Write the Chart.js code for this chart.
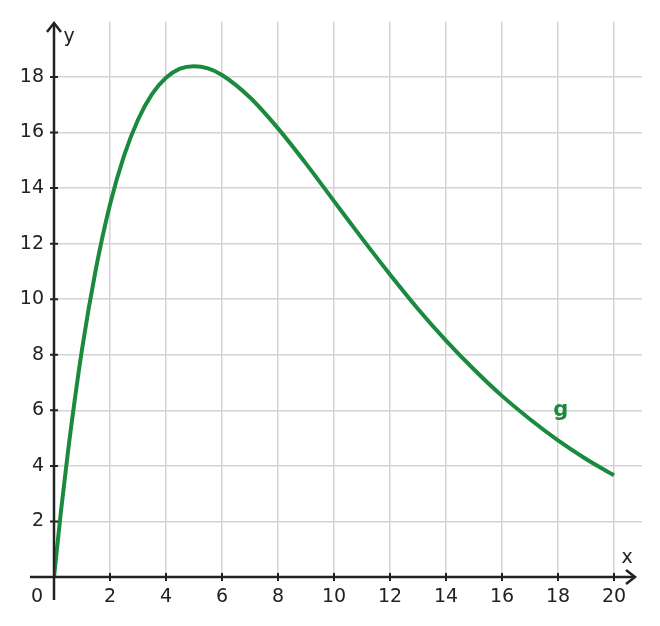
<!DOCTYPE html>
<html>
<head>
<meta charset="utf-8">
<script src="https://cdn.jsdelivr.net/npm/chart.js@4/dist/chart.umd.min.js"></script>
<style>
  html, body { margin: 0; padding: 0; background: #fff; }
  #wrap { width: 660px; height: 626px; }
</style>
</head>
<body>
<div id="wrap"><canvas id="chart" width="660" height="626"></canvas></div>
<script>
// Curve g
const xs = [0, 0.25, 0.5, 1, 1.5, 2, 2.5, 3, 3.5, 4, 4.5, 5, 5.5, 6, 7, 8, 9, 10, 11, 12, 13, 14, 15, 16, 17, 18, 19, 20];
const gValues = [0, 2.38, 4.52, 8.19, 11.11, 13.41, 15.16, 16.46, 17.38, 17.97, 18.30, 18.39, 18.31, 18.07, 17.26, 16.15, 14.88, 13.53, 12.19, 10.89, 9.65, 8.51, 7.47, 6.52, 5.68, 4.92, 4.25, 3.66];
const xTicks = [2, 4, 6, 8, 10, 12, 14, 16, 18, 20];
const yTicks = [2, 4, 6, 8, 10, 12, 14, 16, 18];

const green = "#1a8a3e";
const ink = "#222";
const font = "DejaVu Sans";

const axesPlugin = {
    id: "axes",
    afterDatasetsDraw(chart) {
        const { ctx, scales: { x, y } } = chart;
        const x0 = x.getPixelForValue(0), y0 = y.getPixelForValue(0);
        ctx.save();
        ctx.strokeStyle = ink;
        ctx.fillStyle = ink;
        ctx.lineWidth = 2.5;
        // axis lines
        ctx.beginPath();
        ctx.moveTo(30, y0); ctx.lineTo(634, y0);
        ctx.moveTo(x0, 600); ctx.lineTo(x0, 24);
        ctx.stroke();
        // arrows
        ctx.beginPath();
        ctx.moveTo(626, y0 - 7); ctx.lineTo(635, y0); ctx.lineTo(626, y0 + 7);
        ctx.moveTo(x0 - 7, 32); ctx.lineTo(x0, 23); ctx.lineTo(x0 + 7, 32);
        ctx.stroke();
        // tick marks
        ctx.lineWidth = 2;
        ctx.beginPath();
        xTicks.forEach(v => { const p = x.getPixelForValue(v); ctx.moveTo(p, y0 - 4); ctx.lineTo(p, y0 + 4); });
        yTicks.forEach(v => { const p = y.getPixelForValue(v); ctx.moveTo(x0 - 4, p); ctx.lineTo(x0 + 4, p); });
        ctx.stroke();
        // labels
        ctx.font = "19px '" + font + "'";
        ctx.textAlign = "center";
        ctx.textBaseline = "middle";
        ctx.fillText("0", 37, 597);
        ctx.fillText("x", 627, 558);
        ctx.fillText("y", 69, 37);
        ctx.fillStyle = green;
        ctx.font = "bold 21px '" + font + "'";
        ctx.fillText("g", x.getPixelForValue(18.1), y.getPixelForValue(6));
        ctx.restore();
    }
};

new Chart(document.getElementById("chart"), {
    type: "line",
    data: {
        datasets: [{
            data: xs.map((v, i) => ({ x: v, y: gValues[i] })),
            borderColor: green,
            borderWidth: 4,
            pointRadius: 0,
            tension: 0.4,
            cubicInterpolationMode: "monotone",
            fill: false
        }]
    },
    options: {
        responsive: false,
        animation: false,
        layout: { padding: { left: 0, top: 17, right: 18, bottom: 0 } },
        plugins: { legend: { display: false }, tooltip: { enabled: false } },
        scales: {
            x: {
                type: "linear", min: 0, max: 21,
                afterFit(s) { s.height = 49; },
                afterBuildTicks(s) { s.ticks = xTicks.map(v => ({ value: v })); },
                grid: { color: "#d4d4d4", lineWidth: 1.5, drawTicks: false },
                border: { display: false },
                ticks: { color: ink, font: { family: font, size: 19 }, padding: 9, maxRotation: 0 }
            },
            y: {
                type: "linear", min: 0, max: 20,
                afterFit(s) { s.width = 54; },
                afterBuildTicks(s) { s.ticks = yTicks.map(v => ({ value: v })); },
                grid: { color: "#d4d4d4", lineWidth: 1.5, drawTicks: false },
                border: { display: false },
                ticks: { color: ink, font: { family: font, size: 19 }, padding: 10 }
            }
        }
    },
    plugins: [axesPlugin]
});
</script>
</body>
</html>
